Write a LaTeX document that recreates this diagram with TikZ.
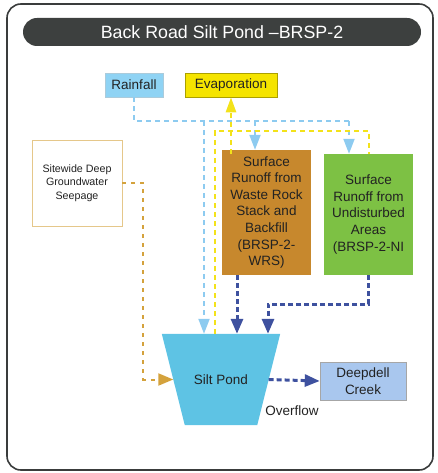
\documentclass[tikz,border=0pt]{standalone}
\usepackage{fontspec}
\setmainfont{Liberation Sans}
\usetikzlibrary{arrows.meta,calc,backgrounds}
\definecolor{framec}{HTML}{3A3C3C}
\definecolor{titlec}{HTML}{3D403F}
\definecolor{rainc}{HTML}{8FD3F4}
\definecolor{evapc}{HTML}{F5E400}
\definecolor{wrsc}{HTML}{C7882D}
\definecolor{nic}{HTML}{7DC144}
\definecolor{pondc}{HTML}{5EC3E4}
\definecolor{deepc}{HTML}{A9C7EE}
\definecolor{lbc}{HTML}{8DCBF0}
\definecolor{ylc}{HTML}{F3E21A}
\definecolor{dbc}{HTML}{3E519F}
\definecolor{orc}{HTML}{D4A23C}
\definecolor{txtc}{HTML}{222222}
\tikzset{
  box/.style={inner sep=0pt, align=center, text=txtc, font=\fontsize{13.5}{16.6}\selectfont},
  lbline/.style={draw=lbc, line width=2pt, dash pattern=on 5pt off 4pt},
  ylline/.style={draw=ylc, line width=2.5pt, dash pattern=on 5pt off 4pt},
  dbline/.style={draw=dbc, line width=3pt, dash pattern=on 5pt off 3pt},
  orline/.style={draw=orc, line width=2pt, dash pattern=on 4pt off 5pt},
  lbtip/.style={-{Triangle[width=11pt,length=15pt,fill=lbc]}},
  yltip/.style={-{Triangle[width=10pt,length=15pt,fill=ylc]}},
  dbtip/.style={-{Triangle[width=12pt,length=15pt,fill=dbc]}},
  ortip/.style={-{Triangle[width=12pt,length=15pt,fill=orc]}},
}
\begin{document}
\begin{tikzpicture}[x=1pt,y=-1pt]
\useasboundingbox (0,0) rectangle (438,473);
% frame
\node[draw=framec, line width=1.6pt, rounded corners=14pt, minimum width=426pt, minimum height=466pt, inner sep=0pt] (frame) at (220,237) {};
% title
\node[fill=titlec, rounded corners=14pt, minimum width=398pt, minimum height=28pt, inner sep=0pt, text=white, font=\fontsize{17.8}{20}\selectfont] (title) at (222,32) {Back Road Silt Pond –BRSP-2};
% boxes
\node[box, fill=rainc, draw=rainc!80!black!60, line width=0.4pt, minimum width=58pt, minimum height=24pt] (rain) at (134,85) {Rainfall};
\node[box, fill=evapc, draw=evapc!70!black, line width=0.6pt, minimum width=92pt, minimum height=24pt] (evap) at (231,85) {Evaporation};
\node[box, draw=orc!60, line width=0.8pt, minimum width=90pt, minimum height=86pt, font=\fontsize{10.7}{13.3}\selectfont] (seep) at (77,183) {Sitewide Deep\\Groundwater\\Seepage};
\node[box, fill=wrsc, minimum width=89pt, minimum height=125pt] (wrs) at (266.5,212.5) {Surface\\Runoff from\\Waste Rock\\Stack and\\Backfill\\(BRSP-2-\\WRS)};
\node[box, fill=nic, minimum width=89pt, minimum height=121pt] (ni) at (368.5,214.5) {Surface\\Runoff from\\Undisturbed\\Areas\\(BRSP-2-NI};
\node[box, minimum width=118pt, minimum height=91pt] (pond) at (221,379.5) {Silt Pond};
\node[box, fill=deepc, draw=gray!70, line width=0.6pt, minimum width=86pt, minimum height=38pt] (deep) at (363,381) {Deepdell\\Creek};
\node[box, anchor=center] (ovf) at (292,411) {Overflow};
\begin{scope}[on background layer]
\fill[pondc] (pond.north west) -- (pond.north east) -- ([xshift=-23pt]pond.south east) -- ([xshift=23pt]pond.south west) -- cycle;
\end{scope}
\coordinate (pondW) at ($(pond.north west)!0.5!([xshift=23pt]pond.south west)$);
\coordinate (pondE) at ($(pond.north east)!0.5!([xshift=-23pt]pond.south east)$);
% helper coordinates
\coordinate (b1) at (349,121);
\coordinate (b2) at (255,121);
\coordinate (b3) at (204,121);
\coordinate (y1) at (215,131);
\coordinate (y2) at (369,131);
\coordinate (d1) at (237,300);
\coordinate (d2) at (268,304);
\coordinate (o1) at (143,183);
% rainfall
\draw[lbline] (rain.south) |- (b1);
\draw[lbline, lbtip] (b1) -- (b1 |- ni.north);
\draw[lbline, lbtip] (b2) -- (b2 |- wrs.north);
\draw[lbline, lbtip] (b3) -- (b3 |- pond.north);
% evaporation
\draw[ylline] (y1 |- pond.north) -- (y1) -- (y2) -- (y2 |- ni.north);
\draw[ylline, yltip] ([yshift=-4pt]evap.south |- wrs.north) -- (evap.south);
% runoff
\draw[dbline, dbtip] (d1 |- wrs.south) -- (d1 |- pond.north);
\draw[dbline, dbtip] (ni.south) |- (d2) -- (d2 |- pond.north);
% seepage
\draw[orline, ortip] (seep.east) -- (o1) |- (pondW);
% overflow
\draw[dbline, dbtip] (pondE) -- (deep.west);
\end{tikzpicture}
\end{document}
